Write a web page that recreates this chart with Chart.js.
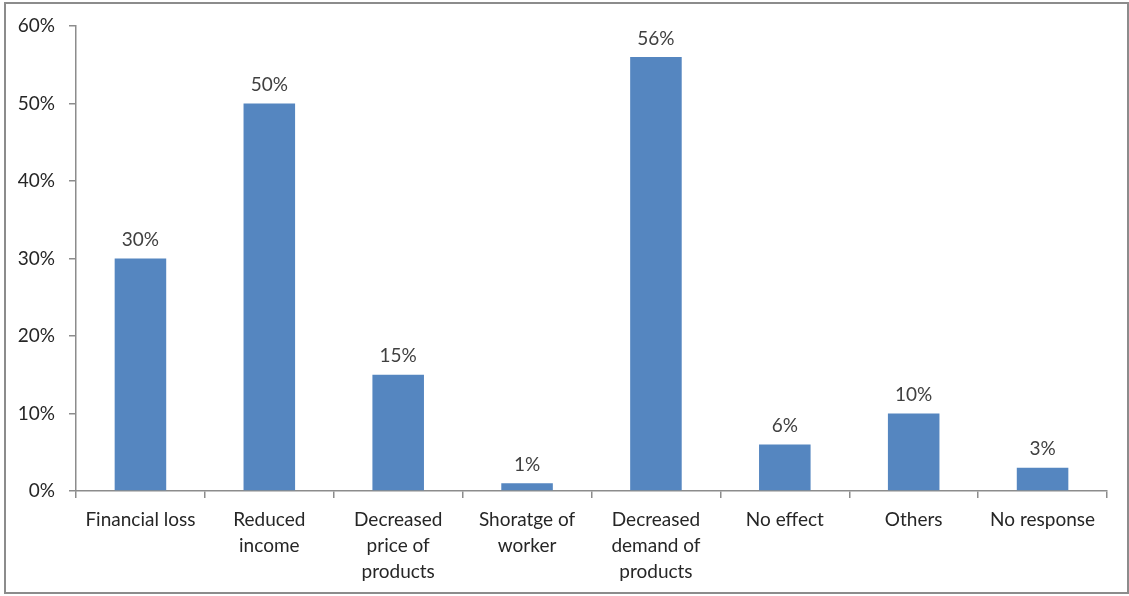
<!DOCTYPE html>
<html>
<head>
<meta charset="utf-8">
<script src="https://cdn.jsdelivr.net/npm/chart.js@4.4.0/dist/chart.umd.min.js"></script>
<style>
    body { margin: 0; background: #fff; }
    #marco { position: absolute; left: 0; top: 0; width: 1129px; height: 596px; }
    #borde { position: absolute; left: 4px; top: 2px; width: 1121px; height: 588px;
             border: 2px solid #8c8c8c; pointer-events: none; }
</style>
</head>
<body>
<div id="marco">
    <canvas id="grafica" width="1129" height="596"></canvas>
    <div id="borde"></div>
</div>
<script>
const categorias = [
    'Financial loss',
    ['Reduced', 'income'],
    ['Decreased', 'price of', 'products'],
    ['Shoratge of', 'worker'],
    ['Decreased', 'demand of', 'products'],
    'No effect',
    'Others',
    'No response'
];
const porcentajes = [30, 50, 15, 1, 56, 6, 10, 3];
const ticksY = [0, 10, 20, 30, 40, 50, 60];

const grafica = document.getElementById('grafica');
const fuente = "Lato, 'Open Sans', sans-serif";
const gris = '#8c8c8c';

// escribe el porcentaje encima de cada barra
const etiquetas = {
    id: 'etiquetas',
    afterDatasetsDraw(chart) {
        const ctx = chart.ctx;
        const meta = chart.getDatasetMeta(0);
        ctx.save();
        ctx.font = '19px ' + fuente;
        ctx.fillStyle = '#404040';
        ctx.textAlign = 'center';
        ctx.textBaseline = 'bottom';
        meta.data.forEach((barra, i) => {
            ctx.fillText(porcentajes[i] + '%', barra.x, barra.y - 9);
        });
        ctx.restore();
    }
};

const myChart = new Chart(grafica, {
    type: 'bar',
    data: {
        labels: categorias,
        datasets: [{
            data: porcentajes,
            backgroundColor: '#5586c0',
            barPercentage: 0.4,
            categoryPercentage: 1.0
        }]
    },
    options: {
        responsive: false,
        animation: false,
        layout: { padding: { top: 26, right: 22, left: 0, bottom: 0 } },
        plugins: {
            legend: { display: false },
            tooltip: { enabled: false }
        },
        scales: {
            x: {
                grid: { drawOnChartArea: false, color: gris, lineWidth: 1.5, tickLength: 7 },
                border: { color: gris, width: 1.5 },
                ticks: {
                    color: '#262626',
                    font: { family: fuente, size: 19, lineHeight: 1.37 },
                    padding: 9,
                    maxRotation: 0
                },
                afterFit: (escala) => { escala.height = 105; }
            },
            y: {
                min: 0,
                max: 60,
                afterBuildTicks: (escala) => {
                    escala.ticks = ticksY.map(v => ({ value: v }));
                },
                grid: { drawOnChartArea: false, color: gris, lineWidth: 1.5, tickLength: 7 },
                border: { color: gris, width: 1.5 },
                ticks: {
                    color: '#262626',
                    font: { family: fuente, size: 19 },
                    padding: 14,
                    callback: (v) => v + '%'
                },
                afterFit: (escala) => { escala.width = 76; }
            }
        }
    },
    plugins: [etiquetas]
});
</script>
</body>
</html>
